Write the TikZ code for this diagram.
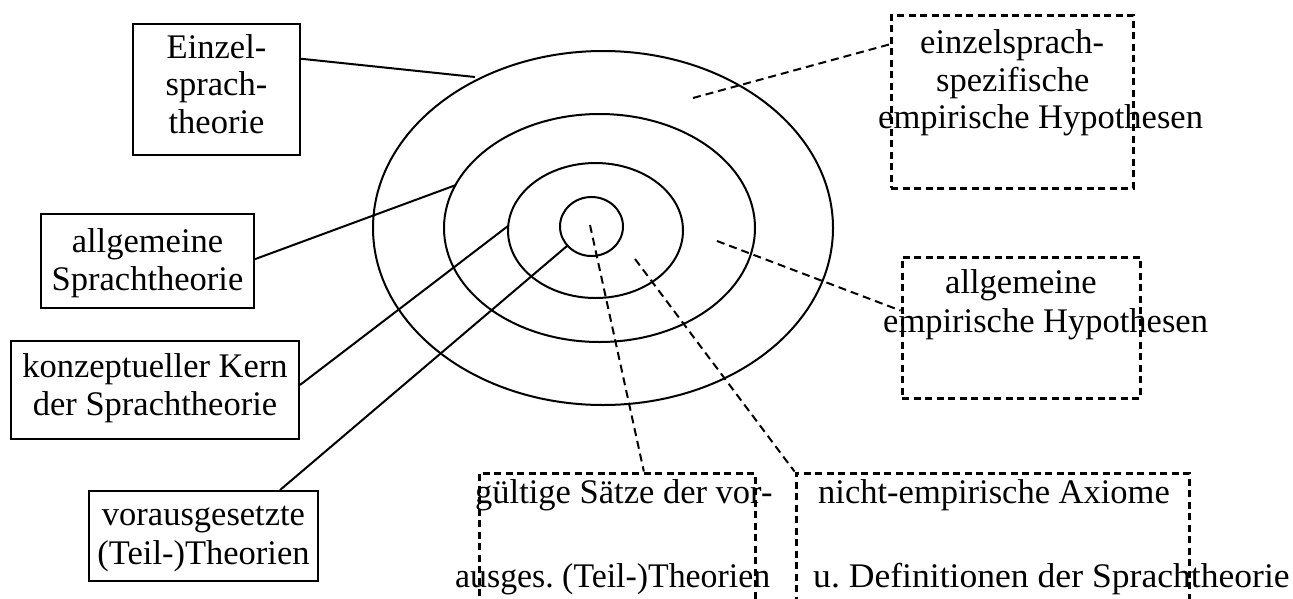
\documentclass[tikz,border=0pt]{standalone}
\usepackage{graphicx}
\usepackage{fontspec}
\setmainfont{Liberation Serif}
\frenchspacing
\begin{document}
\begin{tikzpicture}[x=1pt,y=-1pt,
  every node/.style={font=\fontsize{34.5}{40}\selectfont, inner sep=0pt},
  solidbox/.style={draw, line width=2pt, rectangle},
  dashbox/.style={draw, line width=3pt, dash pattern=on 7pt off 4.5pt, rectangle},
  ring/.style={line width=2pt},
  solidlink/.style={line width=2pt},
  dashlink/.style={line width=2pt, dash pattern=on 8pt off 5pt},
  txt/.style={anchor=base},
  txtw/.style={anchor=base west}]
\useasboundingbox[fill=white] (0,0) rectangle (1293,598);

% ellipses
\draw[ring] (603,228) ellipse [x radius=230pt, y radius=177pt];
\draw[ring] (599.5,228) ellipse [x radius=155.5pt, y radius=114pt];
\draw[ring] (595.5,230.5) ellipse [x radius=87.5pt, y radius=67.5pt];
\draw[ring] (591.5,226.5) ellipse [x radius=31.5pt, y radius=29.5pt];

% solid boxes
\node[solidbox, minimum width=167pt, minimum height=131pt] (b1) at (216.5,89.5) {};
\node[solidbox, minimum width=213pt, minimum height=94pt] (b2) at (147.5,261) {};
\node[solidbox, minimum width=288pt, minimum height=98pt] (b3) at (155,390) {};
\node[solidbox, minimum width=229pt, minimum height=90pt] (b4) at (203.5,536) {};

\node[txt] (t1a) at (216.5,58) {Einzel-};
\node[txt] (t1b) at (216.5,95) {sprach-};
\node[txt] (t1c) at (216.5,133) {theorie};
\node[txt] (t2a) at (147.5,252) {allgemeine};
\node[txt] (t2b) at (147.5,290) {Sprachtheorie};
\node[txt] (t3a) at (155,377) {konzeptueller Kern};
\node[txt] (t3b) at (155,415) {der Sprachtheorie};
\node[txt] (t4a) at (203.5,525) {vorausgesetzte};
\node[txt] (t4b) at (203.5,564) {(Teil-)Theorien};

% dashed boxes
\node[dashbox, minimum width=242pt, minimum height=173pt] (bA) at (1012,101.5) {};
\node[dashbox, minimum width=238pt, minimum height=141pt] (bB) at (1021,327.5) {};
\node[dashbox, minimum width=276pt, minimum height=137pt] (bC) at (617,541.5) {};
\node[dashbox, minimum width=393pt, minimum height=137pt] (bD) at (992.5,541.5) {};

\node[txtw] (tAa) at (920,53) {einzelsprach-};
\node[txtw] (tAb) at (936,91) {spezifische};
\node[txtw] (tAc) at (878,128) {empirische Hypothesen};
\node[txtw] (tBa) at (945,293) {allgemeine};
\node[txtw] (tBb) at (883,332) {empirische Hypothesen};
\node[txtw] (tCa) at (475,503) {gültige Sätze der vor-};
\node[txtw] (tCb) at (455,587) {\scalebox{0.98}[1]{ausges. (Teil-)Theorien}};
\node[txtw] (tDa) at (818,503) {nicht-empirische Axiome};
\node[txtw] (tDb) at (813,587) {\scalebox{1.032}[1]{u. Definitionen der Sprachtheorie}};

% connector ends on the ellipses
\coordinate (e1) at (475,77);
\coordinate (e2) at (456,185);
\coordinate (e3) at (508,226);
\coordinate (e4) at (567,246);
\coordinate (pA) at (693,98);
\coordinate (pB) at (717,241);
\coordinate (pC) at (590,225);
\coordinate (pD) at (635,259);

\draw[solidlink] (b1.20.7) -- (e1);
\draw[solidlink] (b2.1.6) -- (e2);
\draw[solidlink] (b3.2.4) -- (e3);
\draw[solidlink] (b4.31.5) -- (e4);

\draw[dashlink] (pA) -- (bA.155.75);
\draw[dashlink] (pB) -- (bB.172.6);
\draw[dashlink] (pC) -- (bC.69.2);
\draw[dashlink] (pD) -- (bD.north west);
\end{tikzpicture}
\end{document}
